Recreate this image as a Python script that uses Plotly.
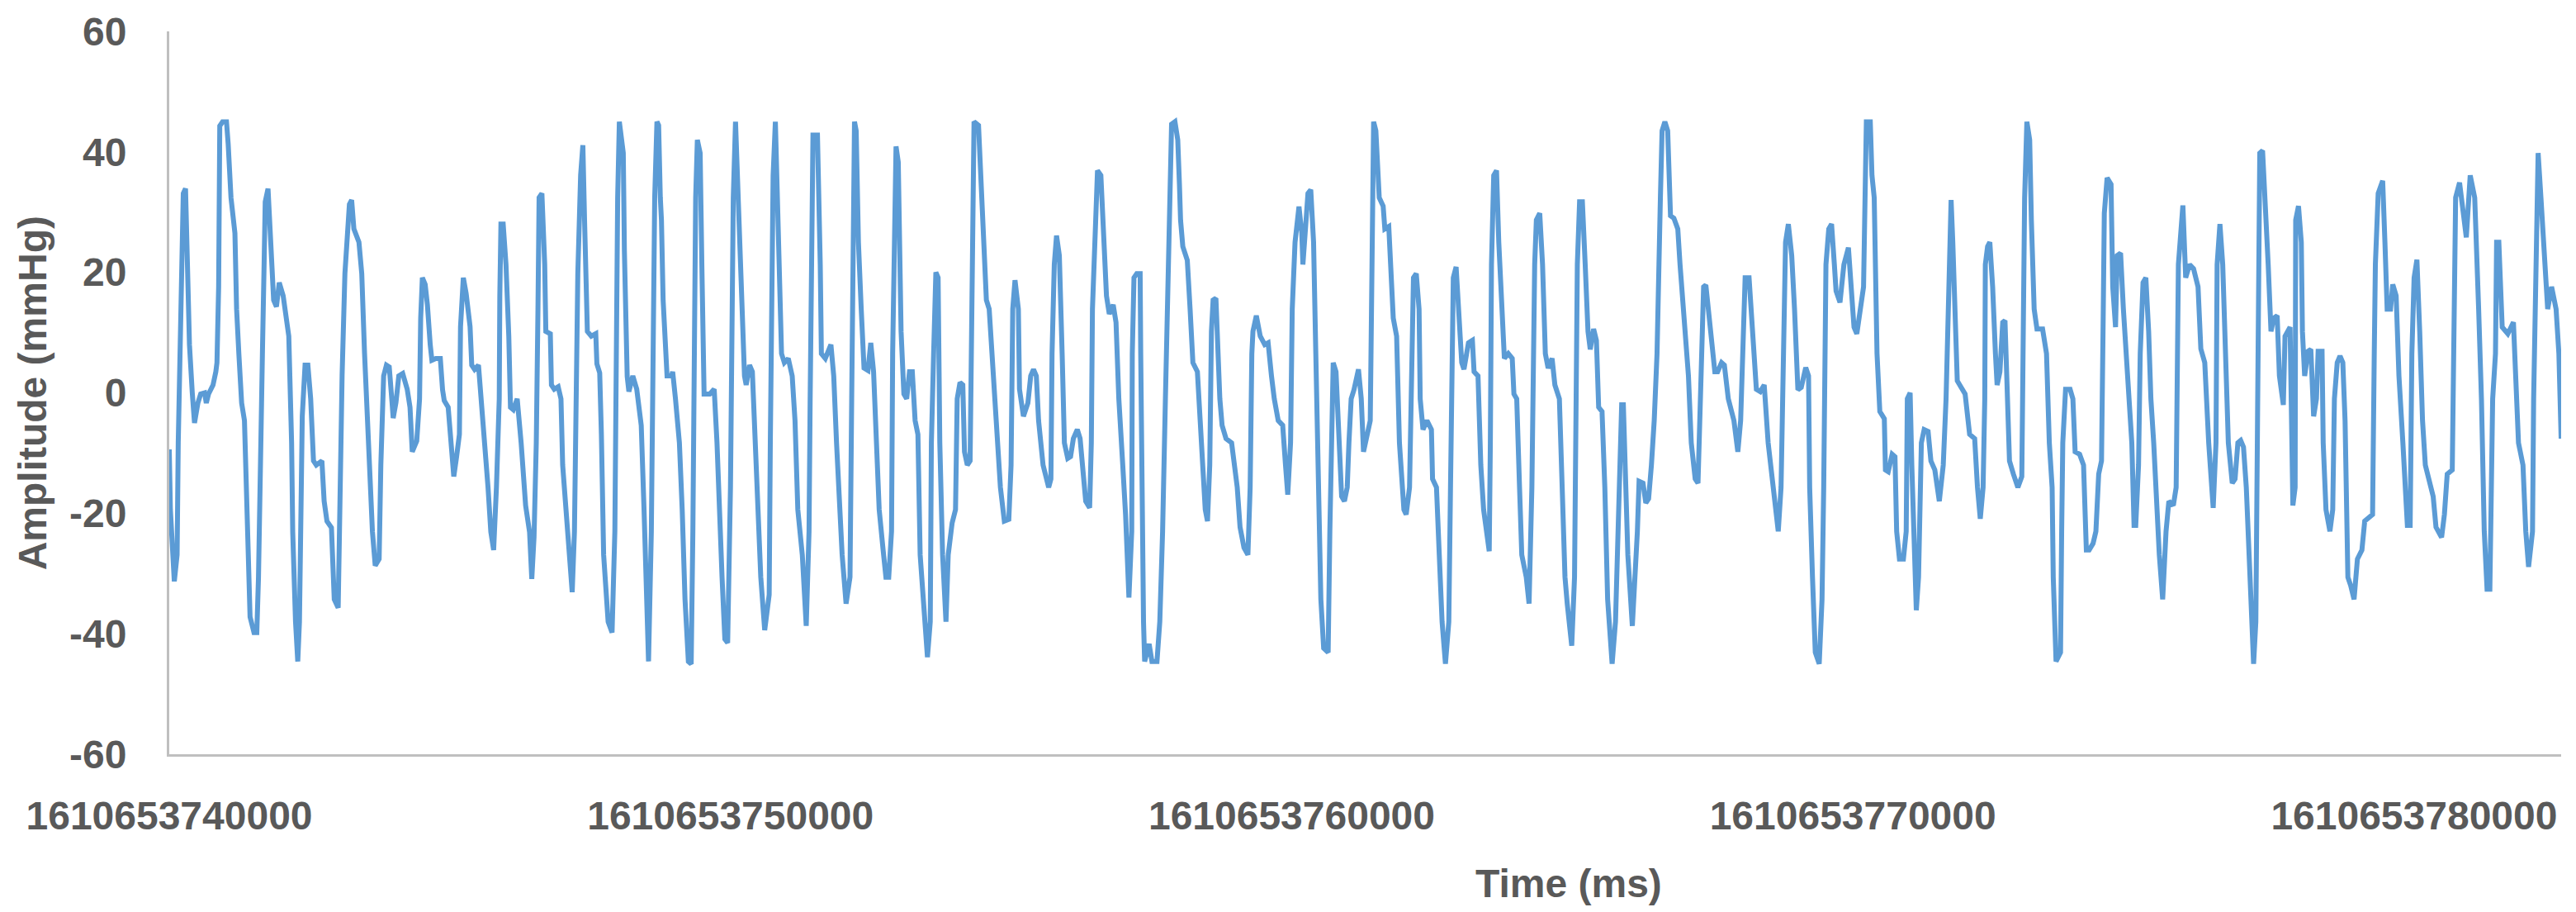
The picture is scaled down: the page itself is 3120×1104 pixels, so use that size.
import plotly.graph_objects as go

# time origin of the recording (ms since epoch)
T0 = 1610653740000

# amplitude samples, split into ~4 s pieces
# times are ms after T0, values in mmHg
seg01_t = [0, 20, 90, 140, 160, 190, 220, 250, 290, 360,
           410, 450, 510, 560, 630, 660, 700, 780, 830, 850,
           880, 890, 900, 950, 1020, 1050, 1100, 1170, 1200, 1240,
           1290, 1340, 1370, 1420, 1440, 1510, 1560, 1590, 1610, 1660,
           1690, 1710, 1760, 1810, 1860, 1910, 1960, 2030, 2130, 2180,
           2200, 2250, 2290, 2320, 2350, 2370, 2420, 2470, 2520, 2570,
           2620, 2720, 2760, 2810, 2890, 2940, 3010, 3030, 3080, 3130,
           3180, 3210, 3250, 3290, 3380, 3430, 3480, 3550, 3620, 3670,
           3740, 3770, 3820, 3870, 3920, 3970, 3990, 4040, 4090, 4160,
           4240, 4290]
seg01_v = [-9.4, -19.4, -31.3, -26.9, -8.3, 8.7, 21.3, 33.1, 33.9, 8,
           0, -5, -1.7, -0.2, 0, -1.7, -0.2, 1.3, 3.5, 5,
           17.6, 30.2, 44.3, 45, 45, 41.3, 32.4, 26.5, 13.9, 6.5,
           -1.7, -4.6, -15.7, -30.6, -37.2, -39.8, -39.8, -30.6, -15.7, 6.5,
           21.3, 31.7, 33.9, 25, 15.4, 14.3, 18.3, 16.1, 9.4, -8.3,
           -23.1, -38, -44.6, -38, -15.7, -3.9, 4.6, 4.6, -1, -11.3,
           -12, -11.3, -18, -21.3, -22.4, -34.3, -35.7, -23, 3, 19.8,
           26.5, 31.3, 32, 27.2, 25, 19.8, 6.5, -8.3, -23, -28.7,
           -27.6, -12, 2.8, 4.6, 4.3, -1.6, -4.2, -1.6, 2.8, 3.2,
           0.6, -2.4]

seg02_t = [4330, 4410, 4460, 4480, 4510, 4560, 4600, 4650, 4680, 4750,
           4830, 4870, 4900, 4970, 5020, 5070, 5120, 5170, 5190, 5240,
           5290, 5360, 5390, 5440, 5510, 5560, 5630, 5680, 5730, 5780,
           5830, 5880, 5890, 5910, 5950, 6000, 6050, 6080, 6130, 6200,
           6270, 6350, 6420, 6460, 6500, 6540, 6570, 6590, 6640, 6690,
           6710, 6790, 6810, 6860, 6930, 6980, 7010, 7080, 7130, 7180,
           7220, 7250, 7280, 7330, 7370, 7400, 7450, 7520, 7600, 7620,
           7670, 7700, 7740, 7820, 7890, 7940, 7960, 7990, 8020, 8090,
           8110, 8160, 8190, 8260, 8330, 8410, 8460, 8500, 8540]
seg02_v = [-9.8, -8, -1, 12.4, 19.1, 18, 14.6, 8, 5.4, 5.7,
           5.7, 0.5, -1.3, -2.4, -8.3, -13.9, -10.6, -6.9, 11, 19.1,
           16.5, 11, 4.6, 3.9, 4.6, -1, -8.3, -15.7, -23.1, -26.1,
           -15.7, -1, 16.1, 28, 28, 21.3, 9.4, -2.4, -2.8, -1,
           -8.3, -18.7, -23.1, -30.9, -23.9, -8.3, 13.9, 32.4, 33.1, 21.3,
           10.2, 9.8, 1.3, 0.6, 1, -1, -12, -21.6, -29, -33.1,
           -23, 6.5, 19.8, 36.1, 41.1, 28.7, 10.2, 9.4, 9.8, 4.8,
           3.3, -6.9, -26.9, -38, -39.8, -23, 6.5, 32.4, 45, 39.8,
           23.5, 2.7, 0.2, 2.8, 0.6, -5.4, -19.4, -30.6, -44.6]

seg03_t = [8590, 8630, 8650, 8690, 8720, 8750, 8770, 8800, 8850, 8870,
           8950, 8970, 9020, 9090, 9140, 9190, 9250, 9300, 9330, 9350,
           9360, 9380, 9410, 9460, 9490, 9510, 9530, 9630, 9710, 9760,
           9800, 9850, 9900, 9950, 10000, 10020, 10050, 10090, 10120, 10150,
           10200, 10250, 10280, 10340, 10390, 10440, 10490, 10540, 10610, 10690,
           10710, 10740, 10760, 10800, 10830, 10870, 10910, 10960, 11030, 11100,
           11150, 11200, 11280, 11350, 11400, 11420, 11450, 11470, 11550, 11570,
           11600, 11620, 11690, 11790, 11840, 11890, 11940, 11990, 12060, 12130,
           12160, 12180, 12210, 12240, 12280, 12330, 12380, 12450, 12500, 12550,
           12600, 12650, 12720, 12770, 12820]
seg03_v = [-23, 13.9, 32.4, 45, 44.4, 32.4, 28.7, 15.4, 6.5, 2.8,
           2.8, 3.5, -1, -8.3, -19.4, -34.3, -44.6, -45, -23, -1,
           17.6, 32.4, 42, 39.8, 21.3, 6.5, -0.2, -0.2, 0.6, -8.3,
           -19.4, -30.6, -40.9, -41.5, -15.7, 13.9, 32.4, 45, 36.1, 28,
           13.9, 2.8, 1.3, 4.6, 3.5, -8.3, -19.4, -30.6, -39.4, -33.5,
           -8.3, 21.3, 36.1, 45, 36.1, 22.8, 6.5, 5, 5.7, 2.8,
           -4.6, -19.4, -26.9, -38.7, -23, -1, 25, 42.8, 42.8, 36.1,
           21.3, 6.5, 5.7, 8, 2.8, -8.3, -19.4, -26.9, -35, -30.6,
           -1, 25, 45, 43.5, 25, 13.9, 4.1, 3.7, 8.3, 3.5,
           -8.3, -19.4, -26.1, -30.6, -30.6]

seg04_t = [12870, 12890, 12920, 12950, 12990, 13020, 13040, 13090, 13140, 13190,
           13240, 13290, 13340, 13380, 13430, 13510, 13560, 13580, 13620, 13660,
           13700, 13730, 13780, 13840, 13880, 13950, 14010, 14040, 14090, 14140,
           14170, 14220, 14270, 14290, 14300, 14340, 14420, 14460, 14510, 14560,
           14610, 14660, 14730, 14810, 14880, 14960, 15000, 15030, 15070, 15130,
           15150, 15220, 15300, 15350, 15400, 15450, 15490, 15570, 15670, 15710,
           15730, 15770, 15810, 15860, 15910, 15950, 16010, 16060, 16110, 16180,
           16230, 16280, 16330, 16400, 16430, 16450, 16500, 16540, 16600, 16650,
           16700, 16750, 16820, 16870, 16920, 16990, 17040, 17100]
seg04_v = [-23, 6.5, 28.7, 40.9, 38.3, 25, 10.2, -0.2, -1, 3.5,
           3.5, -4.6, -6.9, -26.9, -32.8, -43.9, -38, -8.3, 6.5, 20,
           19.1, -8.3, -26.9, -38, -26.9, -21.6, -19.4, -1, 1.7, 1.3,
           -9.8, -12, -11.3, 6.5, 28.7, 45, 44.4, 36.1, 21.3, 15.4,
           13.9, 6.5, -4.6, -15.7, -21.3, -21, -12, 13.9, 18.7, 13.9,
           0.6, -3.9, -1.7, 2.8, 3.9, 2.8, -4.6, -12, -15.7, -14.3,
           6.5, 21.3, 26.1, 22.8, 6.5, -8.3, -10.9, -10.6, -7.6, -6.1,
           -7.6, -12.8, -18, -19.1, -8.3, 13.9, 28.7, 36.9, 36.1, 25,
           16.1, 13.1, 14.6, 11.7, -1, -12, -20.2, -34]

seg05_t = [17150, 17160, 17190, 17240, 17300, 17310, 17330, 17360, 17380, 17460,
           17510, 17600, 17650, 17700, 17750, 17800, 17840, 17860, 17920, 17970,
           18000, 18020, 18060, 18140, 18190, 18240, 18320, 18390, 18460, 18500,
           18540, 18570, 18600, 18650, 18680, 18720, 18760, 18830, 18930, 18980,
           19030, 19080, 19150, 19220, 19260, 19290, 19310, 19370, 19440, 19520,
           19580, 19640, 19690, 19760, 19840, 19890, 19930, 19980, 20010, 20060,
           20130, 20180, 20200, 20240, 20290, 20340, 20390, 20430, 20470, 20520,
           20570, 20650, 20680, 20710, 20740, 20790, 20840, 20890, 20940, 20990,
           21020, 21060, 21110, 21190, 21240, 21280]
seg05_v = [-23, 6.5, 19.1, 19.8, 19.8, 6.5, -15.7, -38, -44.6, -41.7,
           -44.6, -44.6, -38, -23, -1, 21.3, 36.1, 44.6, 45, 42,
           34.6, 28.7, 24.3, 22, 13.9, 5, 3.5, -8.3, -19.4, -21.3,
           -12, 10.2, 15.4, 15.7, 6.5, -1, -5.4, -7.6, -8.3, -12,
           -15.7, -22.3, -25.7, -26.9, -15.7, 6.5, 10.2, 12.8, 9.4, 8,
           8.3, 2.8, -1, -4.6, -5.4, -12, -16.9, -8.3, 13.9, 25,
           30.9, 26.5, 21.3, 26.5, 33.1, 33.7, 25, 6.5, -15.7, -34.3,
           -42.4, -43.1, -23, -1, 5, 3.5, -8.3, -17.2, -18, -15.7,
           -8.3, -1, 0.5, 3.9, -1, -9.8]

seg06_t = [21400, 21430, 21460, 21500, 21530, 21560, 21630, 21660, 21730, 21770,
           21810, 21870, 21920, 22000, 22040, 22100, 22140, 22170, 22220, 22270,
           22290, 22340, 22410, 22490, 22510, 22580, 22630, 22680, 22740, 22800,
           22830, 22850, 22880, 22930, 22980, 23030, 23070, 23150, 23220, 23250,
           23320, 23370, 23420, 23470, 23520, 23540, 23560, 23600, 23650, 23690,
           23740, 23790, 23860, 23930, 23960, 24010, 24060, 24100, 24180, 24230,
           24280, 24300, 24330, 24360, 24420, 24470, 24520, 24570, 24640, 24690,
           24770, 24820, 24870, 24910, 24990, 25040, 25060, 25090, 25130, 25180,
           25230, 25280, 25320, 25380, 25430, 25470, 25530, 25580, 25630]
seg06_v = [-4.6, 19.1, 45, 43.5, 38.3, 32.4, 31, 27.2, 27.6, 21.3,
           12.4, 9.4, -8.3, -19.4, -20.2, -15.7, 10.2, 19.1, 19.8, 13.9,
           -1, -6.1, -4.6, -6.1, -14.3, -15.7, -26.9, -38, -45, -38,
           -15.7, 8.7, 19.1, 20.9, 13.9, 5, 3.9, 8.3, 8.7, 3.5,
           2.8, -12, -19.4, -23, -26.3, -8.3, 21.3, 36.1, 36.9, 25,
           13.9, 5.7, 6.5, 5.7, -0.2, -1, -15.7, -26.9, -30.6, -35,
           -15.7, 6.5, 21.3, 28.7, 29.8, 21.3, 6.5, 4.1, 5.7, 1.3,
           -1, -15.7, -30.6, -35, -42, -30.6, -1, 21.3, 31.7, 31.7,
           21.3, 10.2, 7.2, 10.6, 8.7, -2.4, -3.1, -15.7, -34.3]

seg07_t = [25710, 25770, 25810, 25850, 25880, 25910, 25940, 25990, 26070, 26120,
           26160, 26190, 26260, 26310, 26360, 26410, 26460, 26510, 26530, 26570,
           26600, 26650, 26700, 26730, 26750, 26810, 26880, 26920, 27000, 27070,
           27120, 27190, 27240, 27290, 27340, 27380, 27440, 27490, 27540, 27590,
           27660, 27710, 27780, 27880, 27950, 28000, 28040, 28080, 28150, 28200,
           28250, 28280, 28350, 28420, 28490, 28570, 28670, 28720, 28760, 28800,
           28850, 28910, 28960, 29020, 29080, 29160, 29210, 29230, 29280, 29330,
           29400, 29450, 29480, 29500, 29520, 29570, 29620, 29670, 29700, 29770,
           29840]
seg07_v = [-45, -38, -23, -8.3, -2, -2, -12, -26.9, -38.7, -30.6,
           -23, -14.7, -15, -18.3, -17.6, -12, -4.6, 6.5, 17.6, 32.4,
           43.5, 45, 43.5, 36.1, 29.4, 29, 27.2, 21.3, 10.2, 2.8,
           -8.3, -14.3, -15, -1, 17.6, 17.9, 11.7, 6.5, 3.5, 3.5,
           5, 4.6, -1, -4.6, -9.8, -4.6, 10.2, 19.1, 19.1, 12.4,
           6.5, 0.6, 0.2, 1.3, -8.3, -15.7, -23, -15.7, 10.2, 25,
           28, 22.8, 13.9, 0.5, 0.9, 4.2, 2.8, -15.7, -30.6, -43.1,
           -45, -34.3, -15.7, 6.5, 21.3, 27.2, 28, 21.3, 16.9, 15,
           21.3]

seg08_t = [29920, 29970, 30020, 30070, 30110, 30190, 30210, 30240, 30310, 30340,
           30380, 30410, 30430, 30480, 30560, 30580, 30630, 30700, 30750, 30780,
           30830, 30900, 30950, 30970, 31020, 31050, 31100, 31130, 31170, 31220,
           31270, 31340, 31390, 31460, 31540, 31610, 31660, 31680, 31710, 31750,
           31780, 31810, 31860, 31930, 32000, 32080, 32170, 32220, 32270, 32320,
           32350, 32360, 32400, 32440, 32490, 32540, 32570, 32620, 32670, 32710,
           32740, 32790, 32860, 32940, 33010, 33030, 33060, 33100, 33150, 33180,
           33230, 33280, 33380, 33450, 33500, 33550, 33570, 33620, 33700, 33720,
           33740, 33790, 33870, 33920, 33960, 34040, 34110, 34160]
seg08_v = [24.1, 16.1, 10.9, 9.8, 12.4, 17.6, 28.7, 45, 45, 36.1,
           32.4, 17.6, 6.5, -3.1, -4.3, -12.8, -13.1, -10.2, -10.6, -23,
           -27.6, -27.6, -23, -1, 0, -12, -26.9, -36.1, -30.6, -8.3,
           -6.1, -6.4, -11.3, -12.8, -18, -12, -1, 6.5, 25, 32,
           25, 13.9, 2, 0.9, -0.2, -6.9, -7.6, -15.7, -20.9, -15.7,
           -1, 21.3, 24.3, 25, 17.6, 6.5, 1.3, 3.5, 11.7, 12,
           2.8, -11.3, -13.5, -15.7, -13.9, 6.5, 32.4, 45, 42, 28.7,
           13.9, 10.6, 10.6, 6.5, -8.3, -15.7, -30.6, -44.6, -43.1, -23,
           -8.3, 0.6, 0.6, -1, -9.8, -10.2, -12, -26.1]

seg09_t = [34210, 34280, 34330, 34380, 34430, 34460, 34480, 34530, 34600, 34630,
           34680, 34710, 34770, 34820, 34870, 34900, 34970, 35010, 35040, 35090,
           35120, 35170, 35220, 35270, 35310, 35360, 35410, 35460, 35520, 35580,
           35630, 35710, 35760, 35780, 35800, 35880, 35930, 36000, 36070, 36150,
           36200, 36270, 36340, 36420, 36470, 36490, 36540, 36590, 36640, 36690,
           36760, 36810, 36860, 36910, 36960, 37010, 37060, 37100, 37140, 37180,
           37200, 37230, 37250, 37300, 37350, 37400, 37450, 37500, 37560, 37600,
           37670, 37700, 37790, 37840, 37880, 37890, 37940, 37990, 38010, 38050,
           38110, 38160, 38210, 38260, 38290, 38360, 38380, 38430]
seg09_v = [-26.1, -25, -23, -13.5, -11.3, 12.4, 29.8, 35.7, 34.6, 17.6,
           10.9, 22.8, 23.2, 13.9, 6.5, -1, -8.3, -22, -22, -12,
           6.5, 18.3, 19.1, 10.2, -1, -8.3, -19.4, -26.9, -34.3, -23,
           -18, -18.7, -15.7, 6.5, 21.3, 31.1, 19.1, 21.3, 20.6, 17.6,
           7.3, 5, -8.3, -19.1, -8.3, 21.3, 28, 21.3, 6.5, -8.3,
           -15, -14.3, -8.3, -7.9, -9, -15.7, -26.9, -38, -45, -38,
           -15.7, 17.6, 39.8, 40.2, 32.4, 21.3, 10.2, 12.4, 12.8, 2.8,
           -2, 9.4, 10.9, -18.7, -15.7, 28.7, 31, 25, 10.2, 2.8,
           6.9, 7.2, -3.9, -1, 6.9, 6.9, -8.3, -19.4]

seg10_t = [38500, 38550, 38580, 38630, 38680, 38730, 38770, 38800, 38820, 38870,
           38930, 38990, 39070, 39120, 39190, 39260, 39290, 39310, 39360, 39440,
           39480, 39520, 39580, 39620, 39680, 39730, 39800, 39880, 39930, 39960,
           40000, 40050, 40100, 40150, 40200, 40270, 40340, 40390, 40490, 40540,
           40590, 40680, 40710, 40740, 40810, 40880, 40930, 41000, 41080, 41150,
           41200, 41250, 41300, 41350, 41400, 41450, 41470, 41510, 41540, 41570,
           41670, 41770, 41810, 41860, 41940, 41990, 42040, 42110, 42130, 42180,
           42210, 42260, 42320, 42380, 42450, 42530, 42580, 42620]
seg10_v = [-23, -19.4, -1, 5, 6.1, 5, -4.6, -15.7, -30.6, -32,
           -34.3, -27.6, -26.1, -21.3, -20.6, -20.2, 6.5, 21.3, 33.1, 35.2,
           25, 13.9, 13.9, 18, 16.1, 2.8, -8.3, -22, -22, 6.5,
           19.1, 22.1, 10.2, -4.6, -12, -14.3, -17.2, -22.3, -24, -20.2,
           -13.5, -12.8, 6.5, 32.4, 34.9, 30.2, 25.8, 36.1, 32.4, 13.9,
           -1, -23, -32.6, -32.6, -1, 6.5, 25, 25, 17.6, 10.9,
           9.8, 11.7, 2.8, -8.3, -12, -23, -28.9, -23, -1, 28.7,
           39.8, 32.4, 21.3, 13.9, 17.6, 13.9, 6.5, -7.6]

x_ticks = [1610653740000, 1610653750000, 1610653760000, 1610653770000, 1610653780000]
y_ticks = [-60, -40, -20, 0, 20, 40, 60]

seg_t = [seg01_t, seg02_t, seg03_t, seg04_t, seg05_t, seg06_t, seg07_t, seg08_t, seg09_t, seg10_t]
seg_v = [seg01_v, seg02_v, seg03_v, seg04_v, seg05_v, seg06_v, seg07_v, seg08_v, seg09_v, seg10_v]

times = []
amps = []
for ts, vs in zip(seg_t, seg_v):
    times += [T0 + t for t in ts]
    amps += vs

grey = '#595959'
axis_col = '#BFBFBF'
font_family = 'Liberation Sans, Arial, sans-serif'

fig = go.Figure()
fig.add_trace(go.Scatter(x=times, y=amps, mode='lines',
                         line=dict(color='#5B9BD5', width=6),
                         hoverinfo='skip', showlegend=False))

fig.update_layout(
    width=3120, height=1104,
    margin=dict(l=205, r=18, t=34, b=191),
    paper_bgcolor='white', plot_bgcolor='white',
    font=dict(family=font_family, color=grey),
    xaxis=dict(range=[T0, times[-1]], tickmode='array', tickvals=x_ticks,
               ticktext=[str(v) for v in x_ticks],
               showgrid=False, zeroline=False, showline=True,
               linecolor=axis_col, linewidth=3,
               ticks='outside', ticklen=30, tickcolor='rgba(0,0,0,0)',
               tickfont=dict(size=48, color=grey, family=font_family, weight='bold')),
    yaxis=dict(range=[-60, 60], tickmode='array', tickvals=y_ticks,
               ticktext=[str(v) for v in y_ticks],
               showgrid=False, zeroline=False, showline=True,
               linecolor=axis_col, linewidth=3,
               ticks='outside', ticklen=39, tickcolor='rgba(0,0,0,0)',
               tickfont=dict(size=48, color=grey, family=font_family, weight='bold')),
    annotations=[
        dict(text='Time (ms)', xref='paper', yref='paper', x=0.585, y=-0.179,
             xanchor='center', yanchor='middle', showarrow=False,
             font=dict(size=48, color=grey, family=font_family, weight='bold')),
        dict(text='Amplitude (mmHg)', xref='paper', yref='paper', x=-0.057, y=0.5,
             xanchor='center', yanchor='middle', textangle=-90, showarrow=False,
             font=dict(size=48, color=grey, family=font_family, weight='bold')),
    ],
)

fig.write_html('out.html', config={'displayModeBar': False},
               post_script="document.body.style.margin='0';")
